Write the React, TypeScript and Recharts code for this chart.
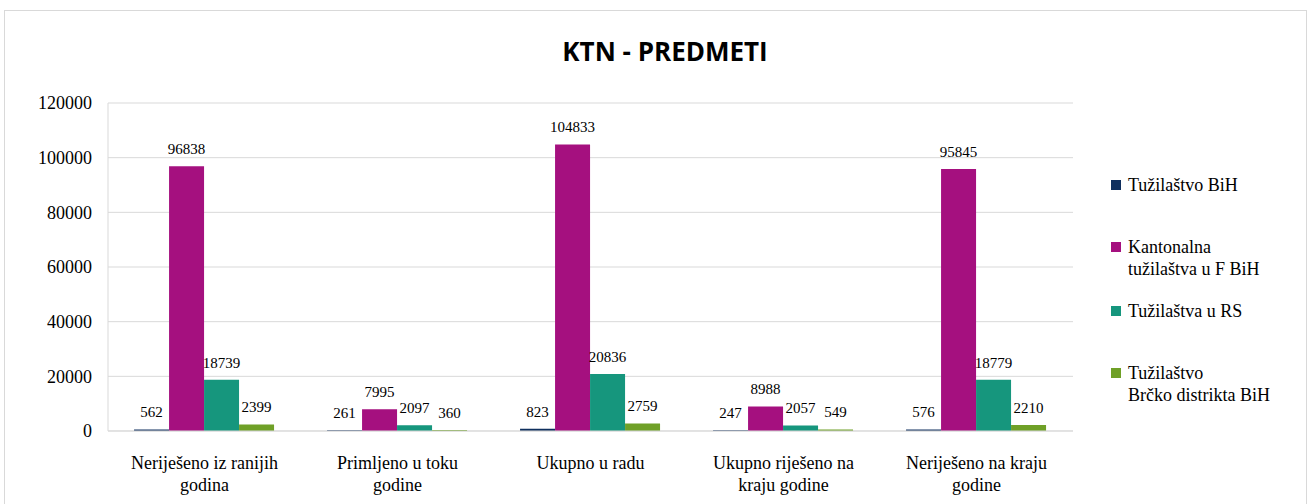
import { Bar, BarChart, CartesianGrid, LabelList, XAxis, YAxis } from "recharts"

const categories = [
  "Neriješeno iz ranijih godina",
  "Primljeno u toku godine",
  "Ukupno u radu",
  "Ukupno riješeno na kraju godine",
  "Neriješeno na kraju godine",
]

// category labels as they wrap on the axis
const categoryLines = [
  ["Neriješeno iz ranijih", "godina"],
  ["Primljeno u toku", "godine"],
  ["Ukupno u radu"],
  ["Ukupno riješeno na", "kraju godine"],
  ["Neriješeno na kraju", "godine"],
]

const tuzilastvoBiH = [562, 261, 823, 247, 576]
const kantonalnaFBiH = [96838, 7995, 104833, 8988, 95845]
const tuzilastvaRS = [18739, 2097, 20836, 2057, 18779]
const brckoBiH = [2399, 360, 2759, 549, 2210]

const yTicks = [0, 20000, 40000, 60000, 80000, 100000, 120000]

const series = [
  { key: "bih", name: "Tužilaštvo BiH", lines: ["Tužilaštvo BiH"], color: "#0f2f5e", top: 174 },
  { key: "fbih", name: "Kantonalna tužilaštva u F BiH", lines: ["Kantonalna", "tužilaštva u F BiH"], color: "#a5107f", top: 236 },
  { key: "rs", name: "Tužilaštva u RS", lines: ["Tužilaštva u RS"], color: "#16967d", top: 300 },
  { key: "brcko", name: "Tužilaštvo Brčko distrikta BiH", lines: ["Tužilaštvo", "Brčko distrikta BiH"], color: "#6fa027", top: 362 },
]

const data = categories.map((name, i) => ({
  name,
  bih: tuzilastvoBiH[i],
  fbih: kantonalnaFBiH[i],
  rs: tuzilastvaRS[i],
  brcko: brckoBiH[i],
}))

const serif = "'Times New Roman', 'DejaVu Serif'"

function CategoryTick(props: any) {
  const { x, y, payload } = props
  const idx = categories.indexOf(payload.value)
  const lines = categoryLines[idx] || [payload.value]
  return (
    <text x={x} y={y} textAnchor="middle" style={{ fontFamily: serif, fontSize: 18 }} fill="#000">
      {lines.map((l, i) => (
        <tspan key={i} x={x} dy={i === 0 ? 30 : 22}>
          {l}
        </tspan>
      ))}
    </text>
  )
}

function LegendBox() {
  return (
    <div style={{ position: "absolute", left: 1111, top: 0 }}>
      {series.map((s) => (
        <div key={s.key} style={{ position: "absolute", left: 0, top: s.top, display: "flex" }}>
          <div style={{ width: 10, height: 10, background: s.color, marginTop: 6, marginRight: 7 }} />
          <div style={{ fontFamily: serif, fontSize: 18, lineHeight: "22px", color: "#000", whiteSpace: "nowrap" }}>
            {s.lines.map((l, i) => (
              <div key={i}>{l}</div>
            ))}
          </div>
        </div>
      ))}
    </div>
  )
}

export default function App() {
  return (
    <div style={{ position: "absolute", left: 0, top: 0, width: 1308, height: 504, background: "#fff", overflow: "hidden" }}>
      <div
        style={{
          position: "absolute",
          left: 4,
          top: 10,
          width: 1301,
          height: 510,
          border: "1px solid #d9d9d9",
        }}
      />
      <div
        style={{
          position: "absolute",
          left: 0,
          top: 33,
          width: 1330,
          textAlign: "center",
          fontFamily: "'Open Sans'",
          fontWeight: 700,
          fontSize: 26,
          color: "#000",
        }}
      >
        KTN - PREDMETI
      </div>
      <BarChart
        width={1308}
        height={504}
        data={data}
        margin={{ top: 103, right: 235, bottom: 0, left: 0 }}
        barCategoryGap="13.5%"
        barGap={0}
        style={{ position: "absolute", left: 0, top: 0 }}
      >
        <CartesianGrid vertical={false} stroke="#d9d9d9" />
        <XAxis
          dataKey="name"
          height={73}
          axisLine={{ stroke: "#d9d9d9" }}
          tickLine={false}
          tick={<CategoryTick />}
          interval={0}
        />
        <YAxis
          width={108}
          domain={[0, 120000]}
          ticks={yTicks}
          axisLine={{ stroke: "#d9d9d9" }}
          tickLine={false}
          tickSize={0}
          tickMargin={16}
          tick={{ fill: "#000", style: { fontFamily: serif, fontSize: 18 } }}
        />
        {series.map((s) => (
          <Bar key={s.key} dataKey={s.key} name={s.name} fill={s.color} isAnimationActive={false}>
            <LabelList
              dataKey={s.key}
              position="top"
              offset={12}
              style={{ fontFamily: serif, fontSize: 15, fill: "#000" }}
            />
          </Bar>
        ))}
      </BarChart>
      <LegendBox />
    </div>
  )
}
